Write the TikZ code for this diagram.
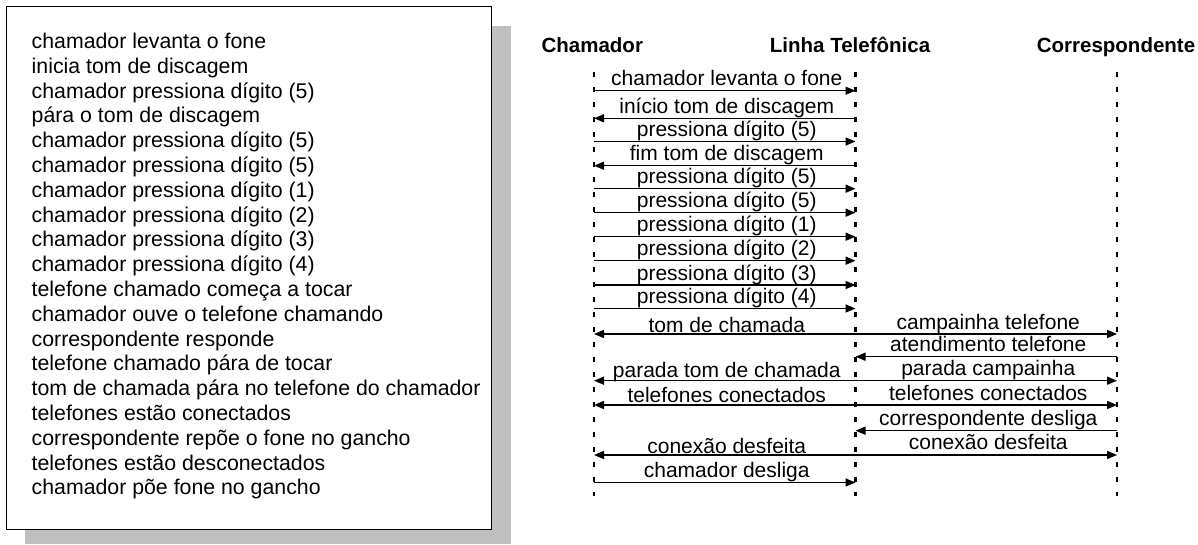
\documentclass[tikz,border=0pt]{standalone}
\usepackage{fontspec}
\setmainfont{Liberation Sans}
\usetikzlibrary{arrows.meta}
\begin{document}
\begin{tikzpicture}[x=1pt,y=-1pt,
  msg/.style={line width=1.5pt,-{Triangle[length=10pt,width=8pt]}},
  lifeline/.style={line width=2.4pt,dash pattern=on 4.5pt off 10.5pt},
  lbl/.style={anchor=base,font=\fontsize{21}{24}\selectfont,inner sep=0pt,xshift=2pt,yshift=#1},
  lbl/.default=5pt,
  head/.style={anchor=base,font=\fontsize{20.5}{24}\selectfont\bfseries,inner sep=0pt},
  boxtext/.style={anchor=base west,font=\fontsize{21.3}{24}\selectfont,inner sep=0pt}]
\useasboundingbox (0,0) rectangle (1198,544);
% left box with shadow
\fill[black!25] (25,26) rectangle (510.7,544);
\filldraw[fill=white,draw=black,line width=1pt] (6.5,6.5) rectangle (491.5,529);
\foreach \t [count=\i from 0] in {chamador levanta o fone,inicia tom de discagem,chamador pressiona dígito (5),pára o tom de discagem,chamador pressiona dígito (5),chamador pressiona dígito (5),chamador pressiona dígito (1),chamador pressiona dígito (2),chamador pressiona dígito (3),chamador pressiona dígito (4),telefone chamado começa a tocar,chamador ouve o telefone chamando,correspondente responde,telefone chamado pára de tocar,tom de chamada pára no telefone do chamador,telefones estão conectados,correspondente repõe o fone no gancho,telefones estão desconectados,chamador põe fone no gancho}
  \node[boxtext] (t\i) at (31.5,{48.5+24.8*\i}) {\t};
% headers
\node[head] (hC) at (592.3,52.7) {Chamador};
\node[head] (hL) at (850,52.7) {Linha Telefônica};
\node[head] (hR) at (1116,52.7) {Correspondente};
% lifelines
\coordinate (Ctop) at (594,72);   \coordinate (Cbot) at (594,496);
\coordinate (Ltop) at (855.5,72); \coordinate (Lbot) at (855.5,496);
\coordinate (Rtop) at (1117,72);  \coordinate (Rbot) at (1117,496);
\draw[lifeline] (Ctop) -- (Cbot);
\draw[lifeline] (Ltop) -- (Lbot);
\draw[lifeline] (Rtop) -- (Rbot);
% row coordinates
\foreach \r/\y in {1/90.7,2/118.3,3/141.5,4/165.7,5/188.7,6/212.7,7/236.7,8/260.7,9/285,10/308.5,11/334,12/356.7,13/380.7,14/405,15/430.7,16/455,17/482.5}{
  \coordinate (C\r) at (594,\y);
  \coordinate (L\r) at (855.5,\y);
  \coordinate (R\r) at (1117,\y);
}
% messages
\draw[msg] (C1) -- node[lbl] {chamador levanta o fone} (L1);
\draw[msg] (L2) -- node[lbl] {início tom de discagem} (C2);
\draw[msg] (C3) -- node[lbl] {pressiona dígito (5)} (L3);
\draw[msg] (L4) -- node[lbl] {fim tom de discagem} (C4);
\draw[msg] (C5) -- node[lbl] {pressiona dígito (5)} (L5);
\draw[msg] (C6) -- node[lbl] {pressiona dígito (5)} (L6);
\draw[msg] (C7) -- node[lbl] {pressiona dígito (1)} (L7);
\draw[msg] (C8) -- node[lbl] {pressiona dígito (2)} (L8);
\draw[msg] (C9) -- node[lbl] {pressiona dígito (3)} (L9);
\draw[msg] (C10) -- node[lbl] {pressiona dígito (4)} (L10);
\draw[msg] (L11) -- node[lbl=2pt] {tom de chamada} (C11);
\draw[msg] (L11) -- node[lbl] {campainha telefone} (R11);
\draw[msg] (R12) -- node[lbl] {atendimento telefone} (L12);
\draw[msg] (L13) -- node[lbl=3pt] {parada tom de chamada} (C13);
\draw[msg] (L13) -- node[lbl] {parada campainha} (R13);
\draw[msg] (L14) -- node[lbl=2.5pt] {telefones conectados} (C14);
\draw[msg] (L14) -- node[lbl] {telefones conectados} (R14);
\draw[msg] (R15) -- node[lbl] {correspondente desliga} (L15);
\draw[msg] (L16) -- node[lbl=1.5pt] {conexão desfeita} (C16);
\draw[msg] (L16) -- node[lbl=6pt] {conexão desfeita} (R16);
\draw[msg] (C17) -- node[lbl] {chamador desliga} (L17);
\end{tikzpicture}
\end{document}
